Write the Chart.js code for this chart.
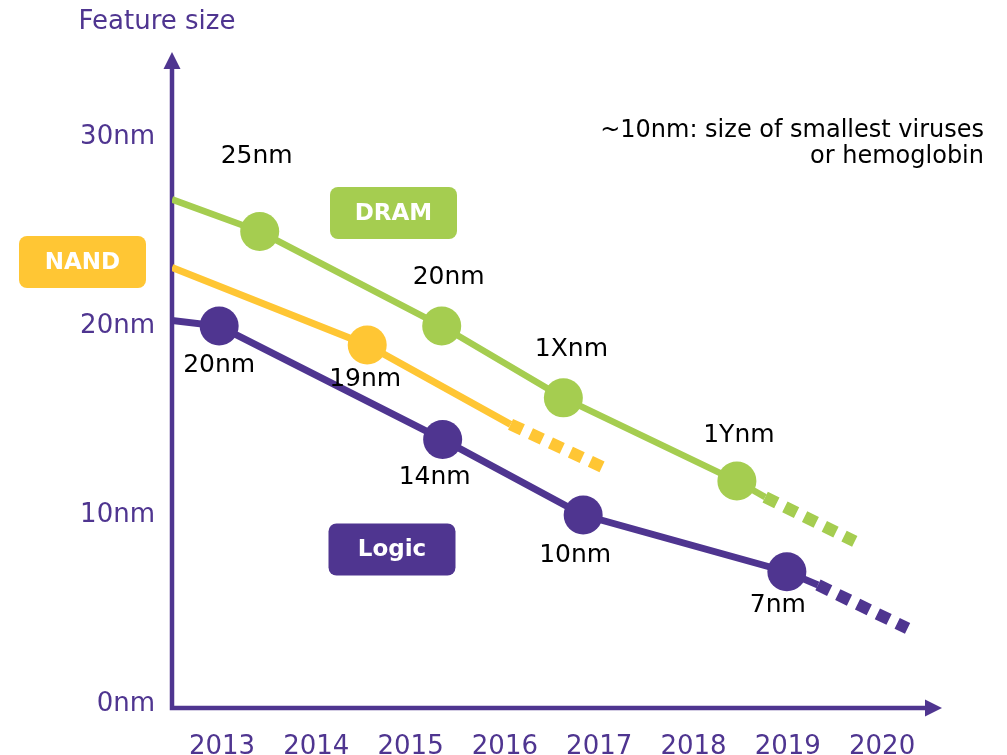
<!DOCTYPE html>
<html>
<head>
<meta charset="utf-8">
<title>Feature size roadmap</title>
<script src="https://cdn.jsdelivr.net/npm/chart.js@4.4.1/dist/chart.umd.min.js"></script>
<style>
  html, body { margin: 0; padding: 0; background: #fff; }
  #wrap { width: 1007px; height: 755px; }
</style>
</head>
<body>
<div id="wrap"><canvas id="roadmap" width="1007" height="755"></canvas></div>
<script>
// axis ticks
const yearTicks = [2013, 2014, 2015, 2016, 2017, 2018, 2019, 2020];
const sizeTicks = [0, 10, 20, 30];

// DRAM nodes
const dramYears = [2013.40, 2015.33, 2016.62, 2018.46];
const dramSizes = [25, 20, 16.2, 11.8];
const dramNodes = ['25nm', '20nm', '1Xnm', '1Ynm'];
const dramStart = [2012.47, 26.7];
const dramEnd = [2018.76, 10.95];
const dramOutlook = [2019.71, 8.6];

// NAND nodes
const nandYears = [2014.54];
const nandSizes = [19];
const nandNodes = ['19nm'];
const nandStart = [2012.47, 23.1];
const nandEnd = [2016.06, 14.8];
const nandOutlook = [2017.03, 12.55];

// Logic nodes
const logicYears = [2012.97, 2015.34, 2016.83, 2018.99];
const logicSizes = [20, 14, 10, 7];
const logicNodes = ['20nm', '14nm', '10nm', '7nm'];
const logicStart = [2012.47, 20.3];
const logicEnd = [2019.32, 6.3];
const logicOutlook = [2020.27, 4.0];

const PURPLE = '#4f3590';
const GREEN = '#a5cd50';
const YELLOW = '#ffc634';
const FONT = '"DejaVu Sans", Verdana, sans-serif';

const pts = (xs, ys) => xs.map((x, i) => ({x: x, y: ys[i]}));

function series(family, color, width, years, sizes, nodes, start, end, outlook) {
  const nodePts = pts(years, sizes);
  return {
    markers: {
      data: nodePts, nodes: nodes, family: family, showLine: false,
      pointRadius: 19.5, pointHoverRadius: 19.5, pointBorderWidth: 0,
      pointBackgroundColor: color, backgroundColor: color
    },
    trend: {
      data: [{x: start[0], y: start[1]}, ...nodePts, {x: end[0], y: end[1]}],
      showLine: true, borderColor: color, borderWidth: width,
      pointRadius: 0, pointHoverRadius: 0
    },
    outlook: {
      data: [{x: end[0], y: end[1]}, {x: outlook[0], y: outlook[1]}],
      showLine: true, borderColor: color, borderWidth: 12,
      borderDash: [13, 9], borderCapStyle: 'butt',
      pointRadius: 0, pointHoverRadius: 0
    }
  };
}

const dram = series(0, GREEN, 6.5, dramYears, dramSizes, dramNodes, dramStart, dramEnd, dramOutlook);
const nand = series(1, YELLOW, 7, nandYears, nandSizes, nandNodes, nandStart, nandEnd, nandOutlook);
const logic = series(2, PURPLE, 7, logicYears, logicSizes, logicNodes, logicStart, logicEnd, logicOutlook);

// label offsets from each marker centre, in px
const labelOffsets = {
  '25nm|0': [-3, -75], '20nm|0': [7, -49], '1Xnm|0': [8, -48], '1Ynm|0': [2, -46],
  '19nm|1': [-2, 35],
  '20nm|2': [0, 39], '14nm|2': [-8, 38], '10nm|2': [-8, 40], '7nm|2': [-9, 34]
};

// axes drawn as arrows
const axisArrows = {
  id: 'axisArrows',
  beforeDatasetsDraw(chart) {
    const {ctx, chartArea: a} = chart;
    ctx.save();
    ctx.strokeStyle = PURPLE;
    ctx.fillStyle = PURPLE;
    ctx.lineWidth = 4.5;
    ctx.lineJoin = 'miter';
    ctx.beginPath();
    ctx.moveTo(a.left, a.top + 12);
    ctx.lineTo(a.left, a.bottom);
    ctx.lineTo(a.right - 12, a.bottom);
    ctx.stroke();
    ctx.beginPath();
    ctx.moveTo(a.left, a.top);
    ctx.lineTo(a.left - 8.5, a.top + 17);
    ctx.lineTo(a.left + 8.5, a.top + 17);
    ctx.closePath();
    ctx.fill();
    ctx.beginPath();
    ctx.moveTo(a.right, a.bottom);
    ctx.lineTo(a.right - 17, a.bottom - 8.5);
    ctx.lineTo(a.right - 17, a.bottom + 8.5);
    ctx.closePath();
    ctx.fill();
    ctx.font = '26px ' + FONT;
    ctx.textAlign = 'center';
    ctx.textBaseline = 'middle';
    ctx.fillText('Feature size', a.left - 15, 22);
    ctx.restore();
  }
};

// node names next to the markers, family tags and the side note
const annotations = {
  id: 'annotations',
  afterDraw(chart) {
    const ctx = chart.ctx;
    ctx.save();
    ctx.fillStyle = '#000';
    ctx.font = '25px ' + FONT;
    ctx.textAlign = 'center';
    ctx.textBaseline = 'middle';
    chart.data.datasets.forEach((ds, di) => {
      if (!ds.nodes) return;
      const meta = chart.getDatasetMeta(di);
      ds.nodes.forEach((name, i) => {
        const el = meta.data[i];
        const off = labelOffsets[name + '|' + ds.family] || [0, 0];
        ctx.fillText(name, el.x + off[0], el.y + off[1]);
      });
    });

    const tag = (text, color, cx, cy) => {
      ctx.fillStyle = color;
      ctx.beginPath();
      ctx.roundRect(cx - 63.5, cy - 26, 127, 52, 8);
      ctx.fill();
      ctx.fillStyle = '#fff';
      ctx.font = 'bold 23px ' + FONT;
      ctx.fillText(text, cx, cy + 1);
    };
    tag('DRAM', GREEN, 393.5, 213);
    tag('NAND', YELLOW, 82.5, 262);
    tag('Logic', PURPLE, 392, 549.5);

    ctx.fillStyle = '#000';
    ctx.font = '24px ' + FONT;
    ctx.textAlign = 'right';
    ctx.textBaseline = 'alphabetic';
    ctx.fillText('~10nm: size of smallest viruses', 984, 137);
    ctx.fillText('or hemoglobin', 984, 163);
    ctx.restore();
  }
};

new Chart(document.getElementById('roadmap'), {
  type: 'scatter',
  data: {
    datasets: [
      dram.markers, nand.markers, logic.markers,
      dram.trend, nand.trend, logic.trend,
      dram.outlook, nand.outlook, logic.outlook
    ]
  },
  options: {
    responsive: false,
    animation: false,
    devicePixelRatio: 1,
    layout: { padding: { top: 52, right: 65, bottom: 0, left: 0 } },
    plugins: { legend: { display: false }, tooltip: { enabled: false } },
    scales: {
      x: {
        type: 'linear',
        min: 2012.47,
        max: 2020.635,
        grid: { display: false },
        border: { display: false },
        afterFit: s => { s.height = 47; },
        afterBuildTicks: s => { s.ticks = yearTicks.map(v => ({value: v})); },
        ticks: {
          padding: 16,
          color: PURPLE,
          font: { family: FONT, size: 26 },
          callback: v => String(v)
        }
      },
      y: {
        type: 'linear',
        min: -0.21,
        max: 34.5,
        grid: { display: false },
        border: { display: false },
        afterFit: s => { s.width = 172; },
        afterBuildTicks: s => { s.ticks = sizeTicks.map(v => ({value: v})); },
        ticks: {
          padding: 9,
          color: PURPLE,
          font: { family: FONT, size: 26 },
          callback: v => v + 'nm'
        }
      }
    }
  },
  plugins: [axisArrows, annotations]
});
</script>
</body>
</html>
